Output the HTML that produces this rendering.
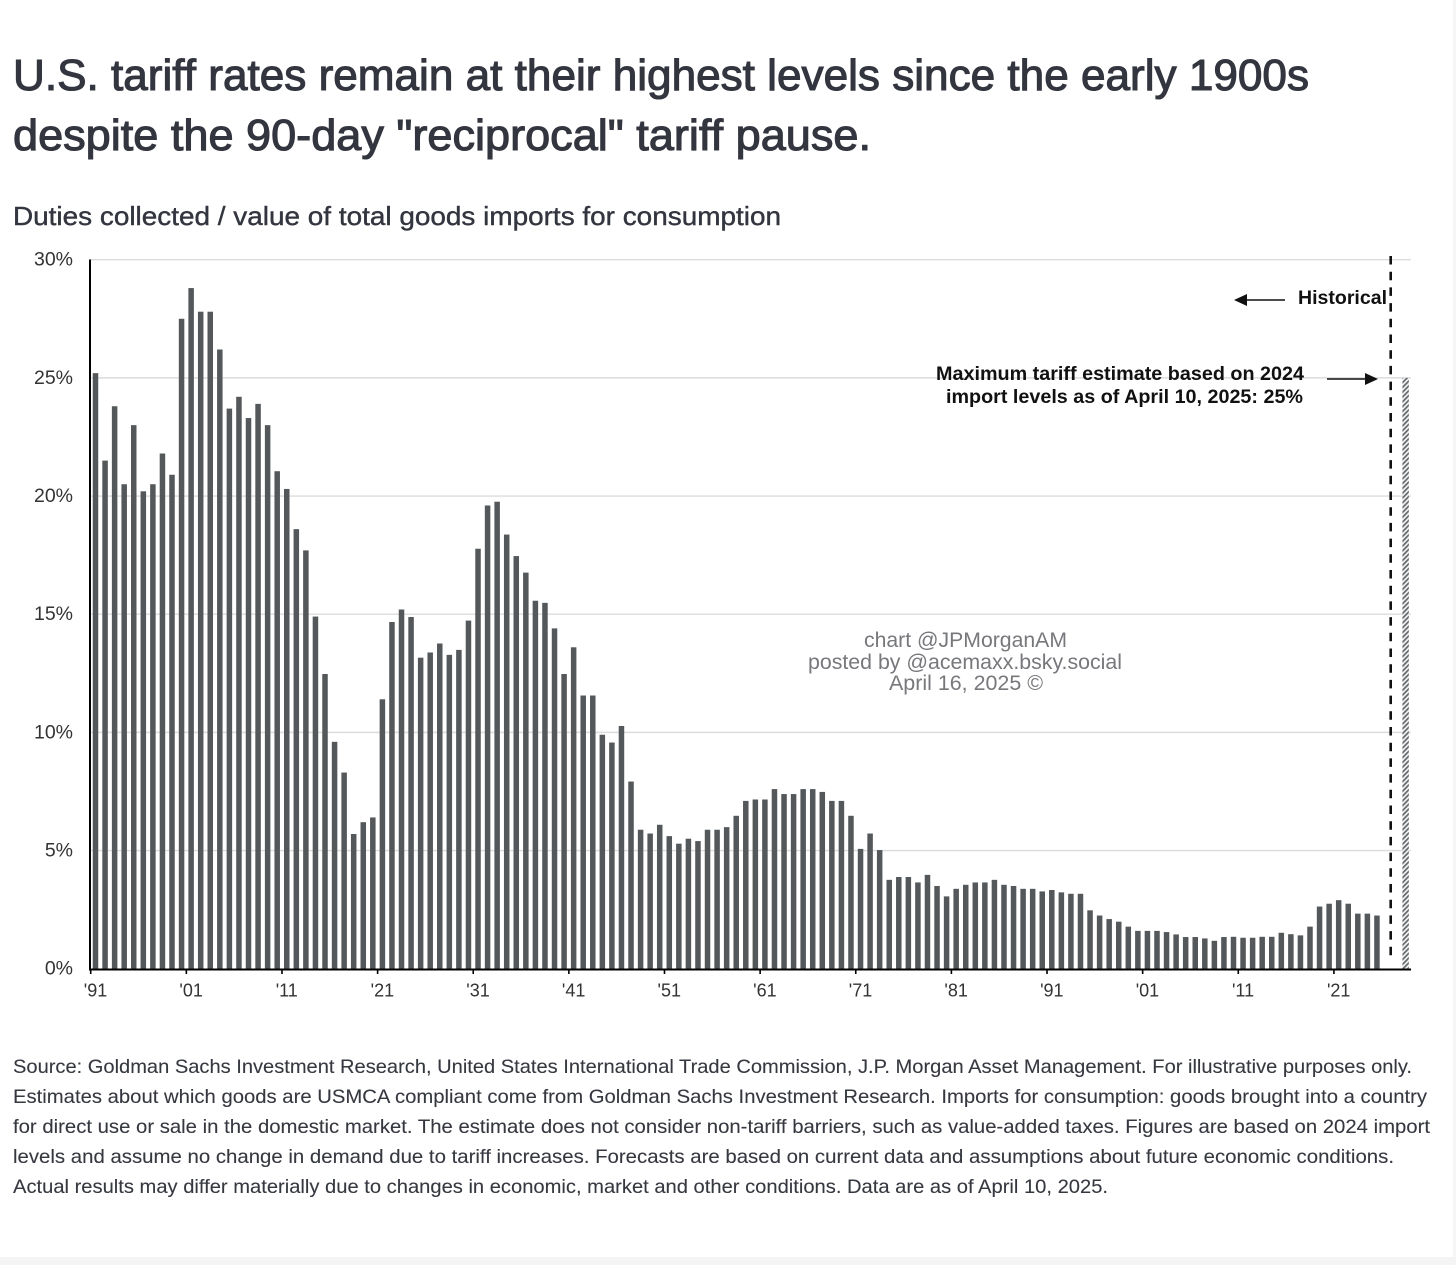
<!DOCTYPE html>
<html lang="en">
<head>
<meta charset="utf-8">
<title>U.S. tariff rates chart</title>
<style>
  html, body { margin: 0; padding: 0; background: #fff; width: 1456px; height: 1265px; overflow: hidden; }
  svg { display: block; }
  text { font-family: "Liberation Sans", Arial, sans-serif; }
  .title { font-size: 44px; fill: #33353f; stroke: #33353f; stroke-width: 1.1px; }
  .subtitle { font-size: 26px; fill: #33353f; stroke: #33353f; stroke-width: 0.4px; }
  .foot { font-size: 19.5px; fill: #363840; stroke: #363840; stroke-width: 0.1px; }
  .note { font-size: 19.5px; font-weight: bold; fill: #111; }
  .mark { font-size: 21px; fill: #77787c; }
  .ylab { font-size: 19.5px; fill: #333; text-anchor: end; }
  .xlab { font-size: 18px; fill: #333; text-anchor: middle; }
</style>
</head>
<body>
<svg id="chart" width="1456" height="1265" viewBox="0 0 1456 1265" xmlns="http://www.w3.org/2000/svg">
  <defs>
    <pattern id="hatch" width="3.4" height="3.4" patternUnits="userSpaceOnUse" patternTransform="rotate(45)">
      <rect width="3.4" height="3.4" fill="#f4f4f4"></rect>
      <rect width="1.7" height="3.4" fill="#63676a"></rect>
    </pattern>
  </defs>

  <rect x="1453" y="0" width="3" height="1265" fill="#f6f6f6"></rect>
  <rect x="0" y="1257" width="1456" height="8" fill="#f4f4f4"></rect>

  <text class="title" x="13" y="90" textLength="1296" lengthAdjust="spacingAndGlyphs">U.S. tariff rates remain at their highest levels since the early 1900s</text>
  <text class="title" x="13" y="150" textLength="858" lengthAdjust="spacingAndGlyphs">despite the 90-day "reciprocal" tariff pause.</text>
  <text class="subtitle" x="13" y="225" textLength="768" lengthAdjust="spacingAndGlyphs">Duties collected / value of total goods imports for consumption</text>

  <g id="grid"></g>
  <g id="bars"></g>
  <g id="axes"></g>

  <text class="note" x="1298" y="304" textLength="89" lengthAdjust="spacingAndGlyphs">Historical</text>
  <g>
    <line x1="1285" y1="300" x2="1244" y2="300" stroke="#111" stroke-width="1.6"></line>
    <polygon points="1234,300 1247,294 1247,306" fill="#111"></polygon>
  </g>
  <text class="note" x="936" y="380" textLength="368" lengthAdjust="spacingAndGlyphs">Maximum tariff estimate based on 2024</text>
  <text class="note" x="946" y="403" textLength="357" lengthAdjust="spacingAndGlyphs">import levels as of April 10, 2025: 25%</text>
  <g>
    <line x1="1327" y1="379" x2="1368" y2="379" stroke="#111" stroke-width="1.6"></line>
    <polygon points="1378,379 1365,373 1365,385" fill="#111"></polygon>
  </g>

  <text class="mark" x="864" y="647" textLength="203" lengthAdjust="spacingAndGlyphs">chart @JPMorganAM</text>
  <text class="mark" x="808" y="669" textLength="314" lengthAdjust="spacingAndGlyphs">posted by @acemaxx.bsky.social</text>
  <text class="mark" x="889" y="690" textLength="154" lengthAdjust="spacingAndGlyphs">April 16, 2025 ©</text>

  <text class="foot" x="13" y="1073" textLength="1399" lengthAdjust="spacingAndGlyphs">Source: Goldman Sachs Investment Research, United States International Trade Commission, J.P. Morgan Asset Management. For illustrative purposes only.</text>
  <text class="foot" x="13" y="1103" textLength="1414" lengthAdjust="spacingAndGlyphs">Estimates about which goods are USMCA compliant come from Goldman Sachs Investment Research. Imports for consumption: goods brought into a country</text>
  <text class="foot" x="13" y="1133" textLength="1417" lengthAdjust="spacingAndGlyphs">for direct use or sale in the domestic market. The estimate does not consider non-tariff barriers, such as value-added taxes. Figures are based on 2024 import</text>
  <text class="foot" x="13" y="1163" textLength="1381" lengthAdjust="spacingAndGlyphs">levels and assume no change in demand due to tariff increases. Forecasts are based on current data and assumptions about future economic conditions.</text>
  <text class="foot" x="13" y="1193" textLength="1095" lengthAdjust="spacingAndGlyphs">Actual results may differ materially due to changes in economic, market and other conditions. Data are as of April 10, 2025.</text>
</svg>

<script>
const tariffRates = [
  25.2, 21.5, 23.8, 20.5, 23.0, 20.2, 20.5, 21.8, 20.9, 27.5,
  28.8, 27.8, 27.8, 26.2, 23.7, 24.2, 23.3, 23.9, 23.0, 21.05,
  20.3, 18.6, 17.7, 14.9, 12.47, 9.6, 8.3, 5.7, 6.2, 6.4,
  11.4, 14.67, 15.2, 14.88, 13.16, 13.38, 13.76, 13.28, 13.49, 14.73,
  17.77, 19.6, 19.76, 18.37, 17.46, 16.76, 15.57, 15.48, 14.4, 12.47,
  13.6, 11.56, 11.56, 9.9, 9.57, 10.27, 7.92, 5.88, 5.72, 6.09,
  5.61, 5.29, 5.5, 5.4, 5.88, 5.88, 5.99, 6.47, 7.1, 7.16,
  7.16, 7.6, 7.39, 7.39, 7.6, 7.6, 7.48, 7.1, 7.1, 6.47,
  5.07, 5.72, 5.02, 3.76, 3.88, 3.88, 3.65, 3.97, 3.5, 3.06,
  3.38, 3.55, 3.65, 3.65, 3.76, 3.55, 3.5, 3.38, 3.38, 3.27,
  3.33, 3.23, 3.17, 3.17, 2.47, 2.25, 2.1, 1.99, 1.78, 1.6,
  1.6, 1.6, 1.55, 1.45, 1.34, 1.34, 1.28, 1.18, 1.34, 1.35,
  1.31, 1.31, 1.35, 1.35, 1.52, 1.46, 1.41, 1.78, 2.63, 2.75,
  2.9, 2.75, 2.33, 2.33, 2.25
];
const estimateRate = 25;
const estimateSlot = 137;
const startYear = 1891;
const yTicks = [0, 5, 10, 15, 20, 25, 30];
const xTickLabels = ["'91", "'01", "'11", "'21", "'31", "'41", "'51", "'61", "'71", "'81", "'91", "'01", "'11", "'21"];
const xTickEvery = 10;

const SVGNS = 'http://www.w3.org/2000/svg';
const plotLeft = 90;
const plotRight = 1411;
const y0 = 968.7;
const pxPerPct = 23.633;
const x0 = 95.5;
const pitch = 9.563;
const barW = 5.5;

function xScale(i) { return x0 + pitch * i; }
function yScale(v) { return y0 - pxPerPct * v; }
function make(tag, attrs, parent) {
  const el = document.createElementNS(SVGNS, tag);
  for (const k in attrs) el.setAttribute(k, attrs[k]);
  parent.appendChild(el);
  return el;
}

const gridG = document.getElementById('grid');
const barsG = document.getElementById('bars');
const axesG = document.getElementById('axes');

yTicks.forEach(function (t) {
  if (t > 0) {
    const g = make('line', { x1: plotLeft, x2: plotRight, y1: yScale(t), y2: yScale(t), stroke: '#dcdcdc', 'stroke-width': 1.4 }, gridG);
    
    
  }
  const lab = make('text', { x: 73, y: yScale(t) + 6, class: 'ylab' }, axesG);
  lab.textContent = t + '%';
  
  
});

tariffRates.forEach(function (v, i) {
  const b = make('rect', { x: xScale(i) - barW / 2, y: yScale(v), width: barW, height: y0 - yScale(v), fill: '#54585a' }, barsG);
  
  
});

const est = make('rect', { x: xScale(estimateSlot) - 3.2, y: yScale(estimateRate), width: 6.4, height: y0 - yScale(estimateRate), fill: 'url(#hatch)' }, barsG);



const divider = make('line', { x1: 1390.7, x2: 1390.7, y1: 256, y2: 958, stroke: '#111', 'stroke-width': 2.6, 'stroke-dasharray': '8.5 7.2' }, axesG);



const yAxis = make('line', { x1: plotLeft, x2: plotLeft, y1: 259.5, y2: 970.5, stroke: '#000', 'stroke-width': 2 }, axesG);



const xAxis = make('line', { x1: plotLeft, x2: plotRight, y1: 969.5, y2: 969.5, stroke: '#000', 'stroke-width': 2 }, axesG);



xTickLabels.forEach(function (label, n) {
  const i = n * xTickEvery;
  const tx = xScale(i) - pitch / 2;
  const tick = make('line', { x1: tx, x2: tx, y1: 969.5, y2: 974, stroke: '#000', 'stroke-width': 1.6 }, axesG);
  
  
  const lab = make('text', { x: xScale(i), y: 996.5, class: 'xlab' }, axesG);
  lab.textContent = label;
  
  
});
</script>
</body>
</html>
